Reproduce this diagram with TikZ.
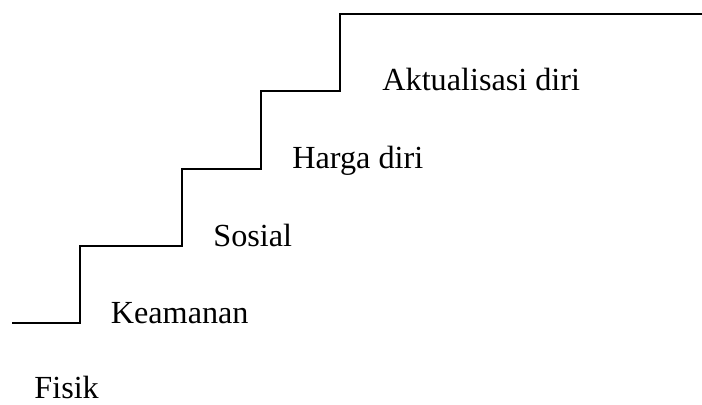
\documentclass[tikz,border=0pt]{standalone}
\usepackage{fontspec}
\setmainfont{Liberation Serif}
\begin{document}
\begin{tikzpicture}[x=0.5pt,y=-0.5pt,
  lbl/.style={anchor=base west,inner sep=0pt,font=\fontsize{16.1pt}{19pt}\selectfont},
  stair/.style={line width=1pt,line join=miter}]
\useasboundingbox (0,0) rectangle (702,405);
\draw[stair] (12,323.5) -- (80,323.5) -- (80,246) -- (182,246) -- (182,169) -- (261,169) -- (261,91) -- (340,91) -- (340,14) -- (702,14);
\node[lbl] (aktualisasi) at (382,91) {Aktualisasi diri};
\node[lbl] (harga) at (292,169) {Harga diri};
\node[lbl] (sosial) at (213,246.5) {Sosial};
\node[lbl] (keamanan) at (110.5,323.5) {Keamanan};
\node[lbl] (fisik) at (34,399) {Fisik};
\end{tikzpicture}
\end{document}
